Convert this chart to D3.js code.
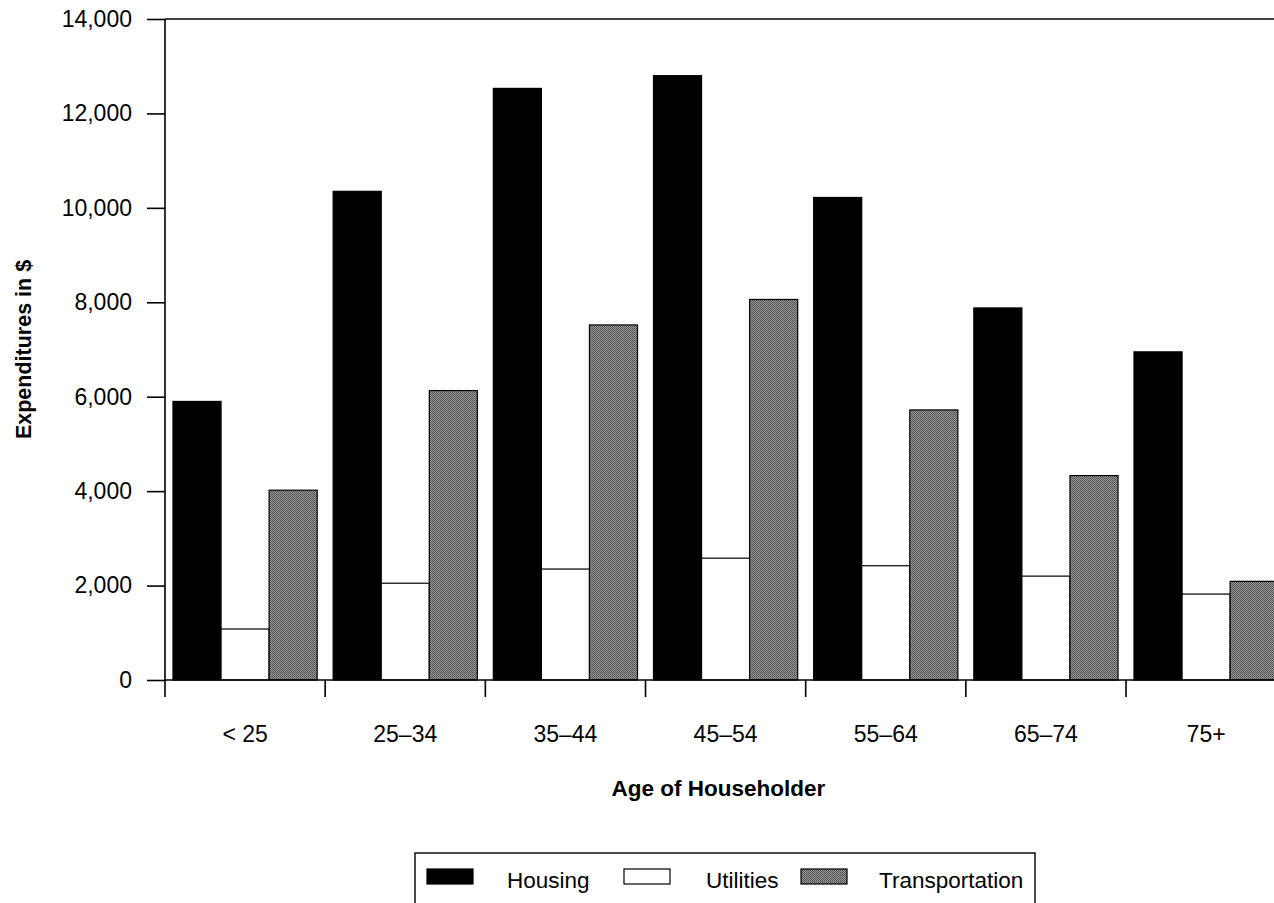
<!DOCTYPE html>
<html>
<head>
<meta charset="utf-8">
<script src="https://cdn.jsdelivr.net/npm/d3@7"></script>
<style>
  html, body { margin: 0; padding: 0; background: #fff; overflow: hidden; }
  svg { display: block; }
  text { font-family: "Liberation Sans", Arial, Helvetica, sans-serif; fill: #000; }
</style>
</head>
<body>
<svg id="chart" width="1274" height="903"></svg>
<script>
const categories = ["< 25", "25–34", "35–44", "45–54", "55–64", "65–74", "75+"];
const seriesNames = ["Housing", "Utilities", "Transportation"];
const housing = [5900, 10350, 12530, 12800, 10220, 7880, 6950];
const utilities = [1080, 2050, 2350, 2580, 2420, 2200, 1820];
const transportation = [4020, 6130, 7520, 8060, 5720, 4330, 2090];
const yTicks = [0, 2000, 4000, 6000, 8000, 10000, 12000, 14000];

(function () {
const seriesValues = [housing, utilities, transportation];
const fills = ["#000000", "#ffffff", "url(#dither)"];

const svg = d3.select("#chart");
const W = 1274, H = 903;
const mLeft = 165, mTop = 19, mBottom = 680;
const step = 160.17;

// dithered gray pattern
const defs = svg.append("defs");
const pat = defs.append("pattern").attr("id", "dither")
  .attr("width", 2).attr("height", 2).attr("patternUnits", "userSpaceOnUse");
pat.append("rect").attr("width", 2).attr("height", 2).attr("fill", "#9a9a9a");
pat.append("rect").attr("width", 1).attr("height", 1).attr("fill", "#4a4a4a");
pat.append("rect").attr("x", 1).attr("y", 1).attr("width", 1).attr("height", 1).attr("fill", "#5a5a5a");

const x = d3.scaleBand().domain(categories).range([mLeft, mLeft + step * categories.length]).padding(0);
const x1 = d3.scaleBand().domain(seriesNames).range([0, x.bandwidth()]).paddingInner(0).paddingOuter(0.166);
const y = d3.scaleLinear().domain([0, 14000]).range([mBottom, mTop]);

// bars
seriesNames.forEach((s, si) => {
  svg.append("g").selectAll("rect")
    .data(categories.map((c, i) => ({ c, v: seriesValues[si][i] })))
    .join("rect")
    .attr("x", d => x(d.c) + x1(s))
    .attr("y", d => y(d.v))
    .attr("width", x1.bandwidth())
    .attr("height", d => y(0) - y(d.v))
    .attr("fill", fills[si])
    .attr("stroke", "#000")
    .attr("stroke-width", 1.2);
});

// y axis
const yAxis = svg.append("g")
  .attr("transform", `translate(${mLeft},0)`)
  .call(d3.axisLeft(y).tickValues(yTicks).tickFormat(d3.format(",")).tickSize(18).tickSizeOuter(0).tickPadding(15));
yAxis.select(".domain").remove();
yAxis.selectAll(".tick line").attr("stroke", "#000").attr("stroke-width", 1.6);
yAxis.selectAll(".tick text").style("font-size", "23px");

svg.append("line").attr("x1", mLeft).attr("x2", mLeft).attr("y1", y(14000)).attr("y2", mBottom + 17)
  .attr("stroke", "#000").attr("stroke-width", 1.6);
svg.append("line").attr("x1", mLeft).attr("x2", W).attr("y1", y(14000)).attr("y2", y(14000))
  .attr("stroke", "#000").attr("stroke-width", 1.6);
svg.append("line").attr("x1", mLeft).attr("x2", W).attr("y1", y(0)).attr("y2", y(0))
  .attr("stroke", "#000").attr("stroke-width", 1.6);

svg.append("g").selectAll("line")
  .data(categories.slice(1))
  .join("line")
  .attr("x1", d => x(d)).attr("x2", d => x(d))
  .attr("y1", mBottom).attr("y2", mBottom + 17)
  .attr("stroke", "#000").attr("stroke-width", 1.6);

const xAxis = svg.append("g")
  .attr("transform", `translate(0,${mBottom})`)
  .call(d3.axisBottom(x).tickSize(0));
xAxis.select(".domain").remove();
xAxis.selectAll(".tick text").attr("y", 62).attr("dy", null).style("font-size", "23px");

svg.append("text")
  .attr("transform", `translate(31,${(mTop + mBottom) / 2}) rotate(-90)`)
  .attr("text-anchor", "middle")
  .style("font-size", "21.5px").attr("font-weight", "bold")
  .text("Expenditures in $");

svg.append("text")
  .attr("x", (mLeft + W) / 2 - 1).attr("y", 796)
  .attr("text-anchor", "middle")
  .style("font-size", "22.5px").attr("font-weight", "bold")
  .text("Age of Householder");

const lg = svg.append("g");
lg.append("rect").attr("x", 415).attr("y", 853).attr("width", 620).attr("height", 70)
  .attr("fill", "#fff").attr("stroke", "#000").attr("stroke-width", 1.4);
const legendItems = [
  { name: seriesNames[0], fill: fills[0], sx: 427, tx: 507 },
  { name: seriesNames[1], fill: fills[1], sx: 624, tx: 706 },
  { name: seriesNames[2], fill: fills[2], sx: 801, tx: 879 }
];
legendItems.forEach(d => {
  lg.append("rect").attr("x", d.sx).attr("y", 869).attr("width", 46).attr("height", 15)
    .attr("fill", d.fill).attr("stroke", "#000").attr("stroke-width", 1.2);
  lg.append("text").attr("x", d.tx).attr("y", 888).style("font-size", "22.5px").text(d.name);
});
})();
</script>
</body>
</html>
